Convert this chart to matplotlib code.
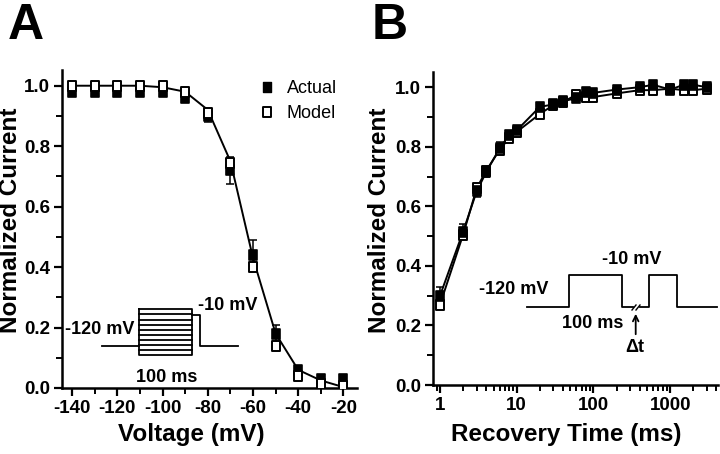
import matplotlib
matplotlib.use("Agg")
import matplotlib.pyplot as plt
import numpy as np
from matplotlib.path import Path
from matplotlib.lines import Line2D
from matplotlib.ticker import MultipleLocator, LogLocator, NullFormatter, FixedLocator, FixedFormatter

plt.rcParams['font.family'] = ['Liberation Sans', 'DejaVu Sans']

# ---------------- Panel A data ----------------
voltage = [-140, -130, -120, -110, -100, -90, -80, -70, -60, -50, -40, -30, -20]
a_actual = [0.98, 0.98, 0.98, 0.98, 0.98, 0.96, 0.90, 0.72, 0.44, 0.18, 0.06, 0.03, 0.03]
a_actual_err = [0.01, 0.01, 0.01, 0.01, 0.01, 0.01, 0.02, 0.045, 0.05, 0.03, 0.01, 0.01, 0.01]
a_model = [1.0, 1.0, 1.0, 1.0, 1.0, 0.98, 0.91, 0.745, 0.40, 0.14, 0.04, 0.012, 0.005]
a_fit = [1.0, 1.0, 1.0, 1.0, 0.995, 0.98, 0.92, 0.75, 0.43, 0.18, 0.06, 0.025, 0.003]
a_xticks = [-140, -120, -100, -80, -60, -40, -20]
a_yticks = [0.0, 0.2, 0.4, 0.6, 0.8, 1.0]

# ---------------- Panel B data ----------------
rec_time = [1, 2, 3, 4, 6, 8, 10, 20, 30, 40, 60, 80, 100, 200, 400, 600, 1000, 1500, 2000, 3000]
b_actual = [0.30, 0.515, 0.65, 0.715, 0.795, 0.84, 0.855, 0.934, 0.942, 0.953, 0.963, 0.984, 0.981, 0.992, 1.0, 1.008, 0.992, 1.008, 1.008, 1.0]
b_actual_err = [0.03, 0.025, 0.02, 0.015, 0.02, 0.012, 0.01, 0.01, 0.01, 0.01, 0.01, 0.01, 0.01, 0.01, 0.01, 0.01, 0.01, 0.01, 0.01, 0.01]
b_model = [0.27, 0.505, 0.66, 0.72, 0.79, 0.83, 0.85, 0.91, 0.94, 0.95, 0.975, 0.967, 0.967, 0.979, 0.99, 0.99, 0.995, 0.99, 0.99, 0.995]
b_xticks = [1, 10, 100, 1000]
b_xticklabels = ["1", "10", "100", "1000"]
b_yticks = [0.0, 0.2, 0.4, 0.6, 0.8, 1.0]

W, H = 720, 454
fig = plt.figure(figsize=(W / 100, H / 100), dpi=100)

def rect(l, t, r, b):
    return [l / W, 1 - b / H, (r - l) / W, (b - t) / H]

def fx(x):
    return x / W

def fy(y):
    return 1 - y / H

# tall rectangle marker (matching the reference aspect)
sq = Path([(-0.37, -0.5), (0.37, -0.5), (0.37, 0.5), (-0.37, 0.5), (-0.37, -0.5)],
          [Path.MOVETO, Path.LINETO, Path.LINETO, Path.LINETO, Path.CLOSEPOLY])
MS = 7.8
TICK_FS = 13.5
LABEL_FS = 17.5

def style_axes(ax):
    for s in ['top', 'right']:
        ax.spines[s].set_visible(False)
    for s in ['left', 'bottom']:
        ax.spines[s].set_linewidth(1.8)
    ax.tick_params(which='major', direction='out', length=5.5, width=1.6, labelsize=TICK_FS, pad=3)
    ax.tick_params(which='minor', direction='out', length=4, width=1.4)
    for lab in ax.get_xticklabels() + ax.get_yticklabels():
        lab.set_fontweight('bold')

# ---------------- Panel A ----------------
axA = fig.add_axes(rect(62, 70, 357, 388))
axA.plot(voltage, a_fit, color='black', lw=1.4, zorder=2)
axA.errorbar(voltage, a_actual, yerr=a_actual_err, fmt='none', ecolor='black',
             elinewidth=1.1, capsize=3, capthick=1.1, zorder=3)
axA.plot(voltage, a_actual, ls='none', marker=sq, ms=MS, mfc='black', mec='black', mew=1.2, zorder=4)
axA.plot(voltage, a_model, ls='none', marker=sq, ms=MS, mfc='white', mec='black', mew=1.4, zorder=5)
axA.set_xlim(-144.5, -14)
axA.set_ylim(0, 1.052)
axA.xaxis.set_major_locator(FixedLocator(a_xticks))
axA.xaxis.set_minor_locator(MultipleLocator(10))
axA.yaxis.set_major_locator(FixedLocator(a_yticks))
axA.yaxis.set_minor_locator(MultipleLocator(0.1))
axA.set_yticklabels([f"{v:.1f}" for v in a_yticks])
axA.set_xticklabels([str(v) for v in a_xticks])
style_axes(axA)

# legend
hA = [Line2D([], [], ls='none', marker=sq, ms=MS, mfc='black', mec='black'),
      Line2D([], [], ls='none', marker=sq, ms=MS, mfc='white', mec='black', mew=1.4)]
axA.legend(hA, ["Actual", "Model"], loc='upper left', bbox_to_anchor=(fx(258), fy(80)),
           bbox_transform=fig.transFigure, borderpad=0, borderaxespad=0,
           frameon=False, fontsize=13, handletextpad=0.6, labelspacing=0.45, handlelength=1.0)

# ---------------- Panel B ----------------
axB = fig.add_axes(rect(433, 71.7, 718, 385))
axB.plot(rec_time, b_model, color='black', lw=1.4, zorder=2)
axB.plot(rec_time, b_actual, color='black', lw=1.4, zorder=2)
axB.errorbar(rec_time, b_actual, yerr=b_actual_err, fmt='none', ecolor='black',
             elinewidth=1.1, capsize=3, capthick=1.1, zorder=3)
axB.plot(rec_time, b_model, ls='none', marker=sq, ms=MS, mfc='white', mec='black', mew=1.4, zorder=4)
axB.plot(rec_time, b_actual, ls='none', marker=sq, ms=MS, mfc='black', mec='black', mew=1.2, zorder=5)
axB.set_xscale('log')
axB.set_xlim(0.81, 4200)
axB.set_ylim(0, 1.052)
axB.xaxis.set_major_locator(FixedLocator(b_xticks))
axB.xaxis.set_major_formatter(FixedFormatter(b_xticklabels))
axB.xaxis.set_minor_locator(LogLocator(base=10, subs=np.arange(2, 10), numticks=20))
axB.xaxis.set_minor_formatter(NullFormatter())
axB.yaxis.set_major_locator(FixedLocator(b_yticks))
axB.yaxis.set_minor_locator(MultipleLocator(0.1))
axB.set_yticklabels([f"{v:.1f}" for v in b_yticks])
style_axes(axB)

# ---------------- axis labels (placed to match reference) ----------------
fig.text(fx(191), fy(434), "Voltage (mV)", fontsize=LABEL_FS, fontweight='bold', ha='center', va='center')
fig.text(fx(566), fy(435), "Recovery Time (ms)", fontsize=LABEL_FS, fontweight='bold', ha='center', va='center')
fig.text(fx(11), fy(220), "Normalized Current", fontsize=LABEL_FS, fontweight='bold',
         ha='center', va='center', rotation=90)
fig.text(fx(380), fy(220), "Normalized Current", fontsize=LABEL_FS, fontweight='bold',
         ha='center', va='center', rotation=90)

# ---------------- panel letters ----------------
fig.text(fx(8), fy(39), "A", fontsize=36, fontweight='bold', ha='left', va='baseline')
fig.text(fx(372), fy(39), "B", fontsize=36, fontweight='bold', ha='left', va='baseline')

# ---------------- insets (schematic protocols, in figure pixels) ----------------
def px_line(xs, ys, lw=1.3):
    fig.add_artist(Line2D([fx(x) for x in xs], [fy(y) for y in ys],
                          color='black', lw=lw, transform=fig.transFigure))

def px_text(x, y, s, ha='center', size=13, **kw):
    fig.text(fx(x), fy(y), s, ha=ha, va='center', fontsize=size, fontweight='bold', **kw)

# Panel A protocol
px_line([101.7, 139.3], [346, 346])
px_line([139.3, 192.3, 192.3, 139.3, 139.3], [309.3, 309.3, 355.3, 355.3, 309.3])
for k in range(1, 9):
    y = 309.3 + k * (355.3 - 309.3) / 9
    px_line([139.3, 192.3], [y, y])
px_line([192.3, 200, 200, 237.7], [315, 315, 346, 346])
px_text(134, 330, "-120 mV", ha='right')
px_text(198, 306, "-10 mV", ha='left')
px_text(167, 377, "100 ms")

# Panel B protocol
px_line([526.7, 569, 569, 621.7, 621.7, 632.5], [307.3, 307.3, 275, 275, 307.3, 307.3])
px_line([640, 649, 649, 676.7, 676.7, 716.7], [307.3, 307.3, 275, 275, 307.3, 307.3])
px_line([632, 636], [310, 305], lw=1.0)
px_line([636, 640], [310, 305], lw=1.0)
fig.add_artist(matplotlib.patches.FancyArrowPatch(
    (fx(635.7), fy(337)), (fx(635.7), fy(311)), transform=fig.transFigure,
    arrowstyle='->', mutation_scale=10, lw=1.3, color='black'))
px_text(514, 290, "-120 mV")
px_text(632, 259, "-10 mV")
px_text(593, 323, "100 ms")
px_text(635, 348, "Δt")

fig.savefig("out.png", dpi=100)
